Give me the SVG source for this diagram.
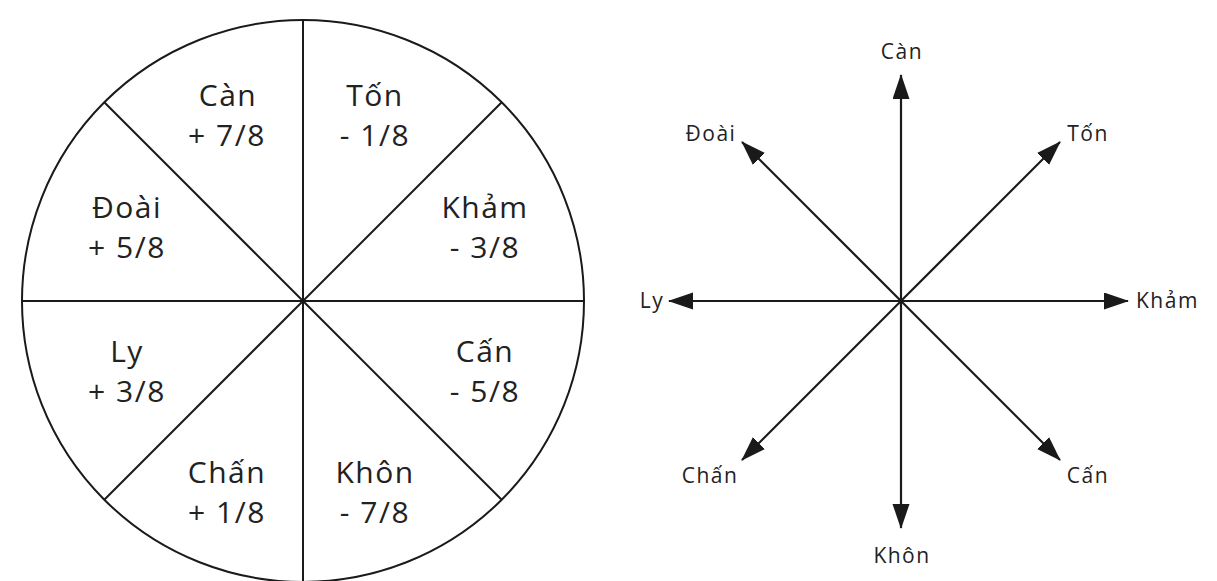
<svg xmlns="http://www.w3.org/2000/svg" width="1217" height="581" viewBox="0 0 1217 581">
  <style>
    .ln { stroke: #1a1a1a; stroke-width: 2; fill: none; }
    .big { font-family: "Open Sans", "Noto Sans", "DejaVu Sans", sans-serif; font-size: 30px; letter-spacing: 1.5px; fill: #222; text-anchor: middle; }
    .sm { font-family: "Open Sans", "Noto Sans", "DejaVu Sans", sans-serif; font-size: 21px; letter-spacing: 1.5px; fill: #222; }
    .arr { stroke: #1a1a1a; stroke-width: 2.2; fill: none; marker-end: url(#ah); }
  </style>
  <defs>
    <marker id="ah" markerUnits="userSpaceOnUse" markerWidth="26" markerHeight="18" refX="24" refY="8.5" orient="auto">
      <path d="M0,0 L25,8.5 L0,17 Z" fill="#1a1a1a"/>
    </marker>
  </defs>
  <rect width="1217" height="581" fill="#ffffff"/>

  <!-- Left: circle divided into 8 sectors -->
  <g id="circle-diagram">
    <circle class="ln" cx="303" cy="301" r="281"/>
    <line class="ln" x1="303" y1="20" x2="303" y2="582"/>
    <line class="ln" x1="22" y1="301" x2="584" y2="301"/>
    <line class="ln" x1="104.3" y1="102.3" x2="501.7" y2="499.7"/>
    <line class="ln" x1="501.7" y1="102.3" x2="104.3" y2="499.7"/>
  </g>
  <g id="sector-can">
    <text class="big" x="228" y="106">Càn</text>
    <text class="big" x="227" y="146">+ 7/8</text>
  </g>
  <g id="sector-ton">
    <text class="big" x="375" y="106">Tốn</text>
    <text class="big" x="375" y="146">- 1/8</text>
  </g>
  <g id="sector-doai">
    <text class="big" x="127" y="218">Đoài</text>
    <text class="big" x="127" y="258">+ 5/8</text>
  </g>
  <g id="sector-kham">
    <text class="big" x="485" y="218">Khảm</text>
    <text class="big" x="485" y="258">- 3/8</text>
  </g>
  <g id="sector-ly">
    <text class="big" x="127" y="362">Ly</text>
    <text class="big" x="127" y="402">+ 3/8</text>
  </g>
  <g id="sector-can2">
    <text class="big" x="485" y="362">Cấn</text>
    <text class="big" x="485" y="402">- 5/8</text>
  </g>
  <g id="sector-chan">
    <text class="big" x="227" y="483">Chấn</text>
    <text class="big" x="227" y="523">+ 1/8</text>
  </g>
  <g id="sector-khon">
    <text class="big" x="375" y="483">Khôn</text>
    <text class="big" x="375" y="523">- 7/8</text>
  </g>

  <!-- Right: compass of arrows -->
  <g id="connectors">
    <line class="arr" x1="901" y1="301" x2="901" y2="75"/>
    <line class="arr" x1="901" y1="301" x2="901" y2="528"/>
    <line class="arr" x1="901" y1="301" x2="669" y2="301"/>
    <line class="arr" x1="901" y1="301" x2="1128" y2="301"/>
    <line class="arr" x1="901" y1="301" x2="742" y2="142"/>
    <line class="arr" x1="901" y1="301" x2="1060" y2="142"/>
    <line class="arr" x1="901" y1="301" x2="742" y2="460"/>
    <line class="arr" x1="901" y1="301" x2="1060" y2="460"/>
  </g>
  <g id="node-can"><text class="sm" x="902" y="59" text-anchor="middle">Càn</text></g>
  <g id="node-doai"><text class="sm" x="711" y="141" text-anchor="middle">Đoài</text></g>
  <g id="node-ton"><text class="sm" x="1088" y="141" text-anchor="middle">Tốn</text></g>
  <g id="node-ly"><text class="sm" x="652" y="308" text-anchor="middle">Ly</text></g>
  <g id="node-kham"><text class="sm" x="1136" y="308">Khảm</text></g>
  <g id="node-chan"><text class="sm" x="710" y="483" text-anchor="middle">Chấn</text></g>
  <g id="node-can2"><text class="sm" x="1088" y="483" text-anchor="middle">Cấn</text></g>
  <g id="node-khon"><text class="sm" x="902" y="563" text-anchor="middle">Khôn</text></g>
</svg>
